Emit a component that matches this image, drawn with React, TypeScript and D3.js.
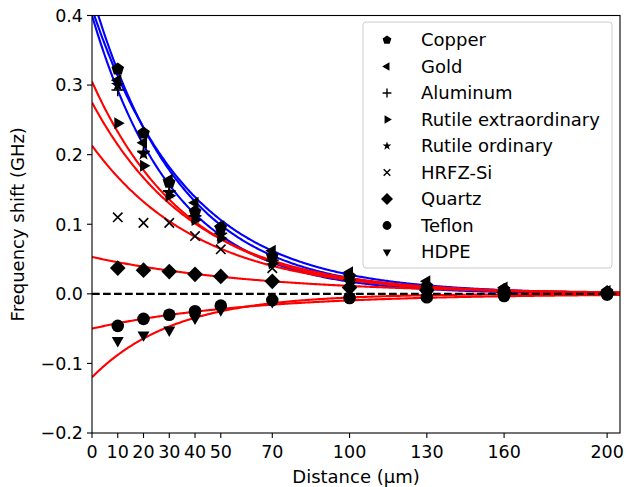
import React from "react";
import * as d3 from "d3";

// measured points (distance in µm, shift in GHz)
const distances = [10, 20, 30, 40, 50, 70, 100, 130, 160, 200];
const copper = [0.323, 0.231, 0.16, 0.118, 0.095, 0.054, 0.025, 0.011, 0.006, 0.003];
const gold = [0.307, 0.217, 0.164, 0.131, 0.097, 0.062, 0.031, 0.018, 0.009, 0.004];
const aluminum = [0.293, 0.205, 0.148, 0.112, 0.087, 0.048, 0.02, 0.008, 0.004, 0.001];
const rutileExtra = [0.245, 0.184, 0.141, 0.106, 0.08, 0.044, 0.016, 0.006, 0.003, 0.0];
const rutileOrd = [0.3, 0.201, 0.145, 0.11, 0.084, 0.046, 0.018, 0.007, 0.003, 0.001];
const hrfzSi = [0.11, 0.102, 0.102, 0.083, 0.064, 0.037, 0.012, 0.004, 0.002, 0.0];
const quartz = [0.037, 0.034, 0.032, 0.028, 0.025, 0.018, 0.009, 0.005, 0.002, 0.001];
const teflon = [-0.046, -0.036, -0.03, -0.025, -0.017, -0.009, -0.006, -0.005, -0.003, -0.001];
const hdpe = [-0.067, -0.059, -0.052, -0.035, -0.023, -0.011, -0.004, -0.002, -0.001, 0.0];

// exponential fits: amplitude (GHz) and decay length (µm)
const fitAmp = [0.43, 0.41, 0.4, 0.275, 0.305, 0.213, 0.053, -0.05, -0.12];
const fitDecay = [34, 37, 32, 40, 37, 42, 65, 60, 32];

const names = ["Copper", "Gold", "Aluminum", "Rutile extraordinary", "Rutile ordinary", "HRFZ-Si", "Quartz", "Teflon", "HDPE"];
const markers = ["pentagon", "tleft", "plus", "tright", "star", "x", "diamond", "circle", "tdown"];
const seriesValues = [copper, gold, aluminum, rutileExtra, rutileOrd, hrfzSi, quartz, teflon, hdpe];

const xTicks = [0, 10, 20, 30, 40, 50, 70, 100, 130, 160, 200];
const yTicks = [-0.2, -0.1, 0.0, 0.1, 0.2, 0.3, 0.4];

const W = 626, H = 487;
const left = 92, right = 620, top = 15.5, bottom = 433;
const font = "DejaVu Sans, sans-serif";

function poly(n: number, r: number, rot: number) {
  const pts = d3.range(n).map((i) => {
    const a = rot + (i * 2 * Math.PI) / n;
    return [r * Math.cos(a), r * Math.sin(a)];
  });
  return "M" + pts.map((p) => p.join(",")).join("L") + "Z";
}

function markerPath(kind: string, s: number) {
  // s is roughly the marker radius in px
  switch (kind) {
    case "pentagon":
      return poly(5, s * 1.05, -Math.PI / 2);
    case "tleft":
      return poly(3, s * 1.1, Math.PI);
    case "tright":
      return poly(3, s * 1.1, 0);
    case "tdown":
      return poly(3, s * 1.1, Math.PI / 2);
    case "diamond":
      return poly(4, s * 1.15, 0);
    case "circle":
      return d3.symbol(d3.symbolCircle, Math.PI * s * s)() as string;
    case "star": {
      const pts = d3.range(10).map((i) => {
        const r = i % 2 === 0 ? s * 1.05 : s * 0.42;
        const a = -Math.PI / 2 + (i * Math.PI) / 5;
        return [r * Math.cos(a), r * Math.sin(a)];
      });
      return "M" + pts.map((p) => p.join(",")).join("L") + "Z";
    }
    case "plus":
      return `M${-s},0L${s},0M0,${-s}L0,${s}`;
    case "x":
      return `M${-s * 0.75},${-s * 0.75}L${s * 0.75},${s * 0.75}M${-s * 0.75},${s * 0.75}L${s * 0.75},${-s * 0.75}`;
  }
  return "";
}

const isLine = (k: string) => k === "plus" || k === "x";

const App = () => {
  const x = d3.scaleLinear().domain([0, 205]).range([left, right]);
  const y = d3.scaleLinear().domain([-0.2, 0.4]).range([bottom, top]);

  const xs = d3.range(0, 205.5, 0.5);
  const line = d3.line<number>().x((d) => x(d[0])).y((d) => y(d[1]));

  const fitCurves = fitAmp.map((a, i) =>
    line(xs.map((v) => [v, a * Math.exp(-v / fitDecay[i])]) as any)
  );

  const fmt = (v: number) => (v < 0 ? "\u2212" : "") + Math.abs(v).toFixed(1);

  const legX = 363, legY = 22, legW = 249, legH = 246;

  return (
    <svg width={W} height={H} style={{ position: "absolute", left: 0, top: 0, background: "#fff" }}>
      <defs>
        <clipPath id="plot">
          <rect x={left} y={top} width={right - left} height={bottom - top} />
        </clipPath>
      </defs>
      <g clipPath="url(#plot)">
        {fitCurves.map((p, i) => (
          <path key={"f" + i} d={p as string} fill="none" stroke={i < 3 ? "#0000ff" : "#ff0000"} strokeWidth={2.1} />
        ))}
        <line x1={left} x2={right} y1={y(0)} y2={y(0)} stroke="#000" strokeWidth={2.1} strokeDasharray="7.7,3.3" />
        {seriesValues.map((vals, i) =>
          vals.map((v, j) => (
            <path
              key={`m${i}-${j}`}
              d={markerPath(markers[i], markers[i] === "star" || markers[i] === "diamond" ? 6.8 : 6.3)}
              transform={`translate(${x(distances[j])},${y(v)})`}
              fill={isLine(markers[i]) ? "none" : "#000"}
              stroke="#000"
              strokeWidth={isLine(markers[i]) ? 1.6 : 0}
            />
          ))
        )}
      </g>

      {/* spines */}
      <rect x={left} y={top} width={right - left} height={bottom - top} fill="none" stroke="#000" strokeWidth={1.1} />

      {/* x axis */}
      {xTicks.map((t) => (
        <g key={"xt" + t} transform={`translate(${x(t)},${bottom})`}>
          <line y2={5} stroke="#000" strokeWidth={1.1} />
          <text y={24.5} textAnchor="middle" fontFamily={font} fontSize={17.5}>{t}</text>
        </g>
      ))}
      <text x={(left + right) / 2} y={483} textAnchor="middle" fontFamily={font} fontSize={18}>Distance (µm)</text>

      {/* y axis */}
      {yTicks.map((t) => (
        <g key={"yt" + t} transform={`translate(${left},${y(t)})`}>
          <line x2={-5} stroke="#000" strokeWidth={1.1} />
          <text x={-9} dy="0.36em" textAnchor="end" fontFamily={font} fontSize={17.5}>{fmt(t)}</text>
        </g>
      ))}
      <text transform={`translate(24,${(top + bottom) / 2}) rotate(-90)`} textAnchor="middle" fontFamily={font} fontSize={18}>
        Frequency shift (GHz)
      </text>

      {/* legend */}
      <rect x={legX} y={legY} width={legW} height={legH} rx={3} fill="#fff" fillOpacity={0.8} stroke="#cccccc" strokeWidth={1} />
      {names.map((n, i) => {
        const cy = legY + 18 + i * 26.5;
        return (
          <g key={"l" + i}>
            <path
              d={markerPath(markers[i], markers[i] === "diamond" ? 5.2 : 4.4)}
              transform={`translate(387,${cy})`}
              fill={isLine(markers[i]) ? "none" : "#000"}
              stroke="#000"
              strokeWidth={isLine(markers[i]) ? 1.4 : 0}
            />
            <text x={421} y={cy} dy="0.36em" fontFamily={font} fontSize={18}>{n}</text>
          </g>
        );
      })}
    </svg>
  );
};

export default App;
